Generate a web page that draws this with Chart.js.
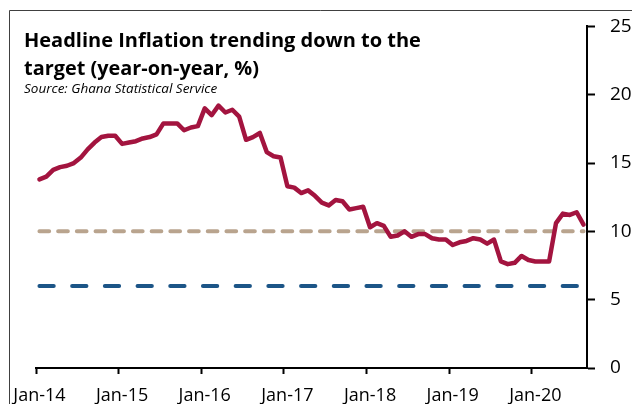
<!DOCTYPE html>
<html>
<head>
<meta charset="utf-8">
<script src="https://cdn.jsdelivr.net/npm/chart.js@4.4.1/dist/chart.umd.min.js"></script>
<style>
  html, body { margin: 0; padding: 0; background: #fff; }
  #wrap { width: 632px; height: 404px; }
</style>
</head>
<body>
<div id="wrap"><canvas id="inflacion" width="632" height="404"></canvas></div>
<script>
// Inflación general interanual (%), enero 2014 - agosto 2020
const headline = [
    13.8, 14.0, 14.5, 14.7, 14.8, 15.0, 15.4, 16.0, 16.5, 16.9, 17.0, 17.0,
    16.4, 16.5, 16.6, 16.8, 16.9, 17.1, 17.9, 17.9, 17.9, 17.4, 17.6, 17.7,
    19.0, 18.5, 19.2, 18.7, 18.9, 18.4, 16.7, 16.9, 17.2, 15.8, 15.5, 15.4,
    13.3, 13.2, 12.8, 13.0, 12.6, 12.1, 11.9, 12.3, 12.2, 11.6, 11.7, 11.8,
    10.3, 10.6, 10.4, 9.6, 9.7, 10.0, 9.6, 9.8, 9.8, 9.5, 9.4, 9.4,
    9.0, 9.2, 9.3, 9.5, 9.4, 9.1, 9.4, 7.8, 7.6, 7.7, 8.2, 7.9,
    7.8, 7.8, 7.8, 10.6, 11.3, 11.2, 11.4, 10.5
];

// Banda de la meta
const upperTarget = 10;
const lowerTarget = 6;

const years = ['14', '15', '16', '17', '18', '19', '20'];
const monthNames = ['Jan', 'Feb', 'Mar', 'Apr', 'May', 'Jun', 'Jul', 'Aug', 'Sep', 'Oct', 'Nov', 'Dec'];
const months = [];
years.forEach(y => monthNames.forEach(m => months.push(m + '-' + y)));
months.length = headline.length;

const yTicks = [0, 5, 10, 15, 20, 25];

const titleLines = ['Headline Inflation trending down to the', 'target (year-on-year, %)'];
const sourceText = 'Source: Ghana Statistical Service';

const esEnero = i => months[i] !== undefined && months[i].startsWith('Jan');

// Marco y título dibujados sobre el canvas
const marco = {
    id: 'marco',
    beforeDraw(chart) {
        const c = chart.ctx;
        c.save();
        c.fillStyle = '#fff';
        c.fillRect(0, 0, chart.width, chart.height);
        c.strokeStyle = '#404040';
        c.lineWidth = 1;
        c.beginPath();
        c.moveTo(9.5, chart.height);
        c.lineTo(9.5, 10.5);
        c.lineTo(chart.width, 10.5);
        c.stroke();
        c.restore();
    },
    afterDraw(chart) {
        const c = chart.ctx;
        c.save();
        c.fillStyle = '#000';
        c.textBaseline = 'alphabetic';
        c.textAlign = 'left';
        c.font = 'bold 20px "Open Sans"';
        c.fillText(titleLines[0], 24, 47, 400);
        c.fillText(titleLines[1], 24, 75, 235);
        c.font = 'italic 13.5px "Open Sans"';
        c.fillText(sourceText, 24, 93, 197);
        c.restore();
    }
};

new Chart(document.getElementById('inflacion'), {
    type: 'line',
    data: {
        labels: months,
        datasets: [
            {
                data: headline,
                borderColor: '#A3143F',
                borderWidth: 4.5,
                borderJoinStyle: 'round',
                borderCapStyle: 'round',
                pointRadius: 0,
                tension: 0
            },
            {
                data: [{ x: months[0], y: upperTarget }, { x: months[months.length - 1], y: upperTarget }],
                borderColor: '#B9A48E',
                borderWidth: 4,
                borderDash: [9.7, 9],
                borderCapStyle: 'round',
                pointRadius: 0
            },
            {
                data: [{ x: months[0], y: lowerTarget }, { x: months[months.length - 1], y: lowerTarget }],
                borderColor: '#1C5587',
                borderWidth: 4,
                borderDash: [14.3, 18.4],
                borderCapStyle: 'round',
                pointRadius: 0
            }
        ]
    },
    options: {
        responsive: false,
        animation: false,
        devicePixelRatio: 1,
        layout: { padding: { left: 36, top: 24, right: 0, bottom: 0 } },
        plugins: { legend: { display: false }, tooltip: { enabled: false } },
        scales: {
            x: {
                type: 'category',
                offset: true,
                afterFit: s => { s.height = 36; },
                grid: {
                    offset: true,
                    drawOnChartArea: false,
                    tickLength: 6,
                    tickWidth: 2,
                    tickColor: ctx => (ctx.tick && esEnero(ctx.index)) ? '#000' : 'rgba(0,0,0,0)'
                },
                border: { color: '#000', width: 2 },
                ticks: {
                    autoSkip: false,
                    maxRotation: 0,
                    padding: 11,
                    color: '#000',
                    font: { family: 'Open Sans', size: 18 },
                    callback: (v, i) => esEnero(i) ? months[i] : ''
                }
            },
            y: {
                position: 'right',
                min: 0,
                max: 25,
                afterFit: s => { s.width = 45; },
                afterBuildTicks: s => { s.ticks = yTicks.map(v => ({ value: v })); },
                grid: {
                    drawOnChartArea: false,
                    tickLength: 8,
                    tickWidth: 2,
                    tickColor: '#000'
                },
                border: { color: '#000', width: 2 },
                ticks: {
                    padding: 15,
                    color: '#000',
                    font: { family: 'Open Sans', size: 19 }
                }
            }
        }
    },
    plugins: [marco]
});
</script>
</body>
</html>
